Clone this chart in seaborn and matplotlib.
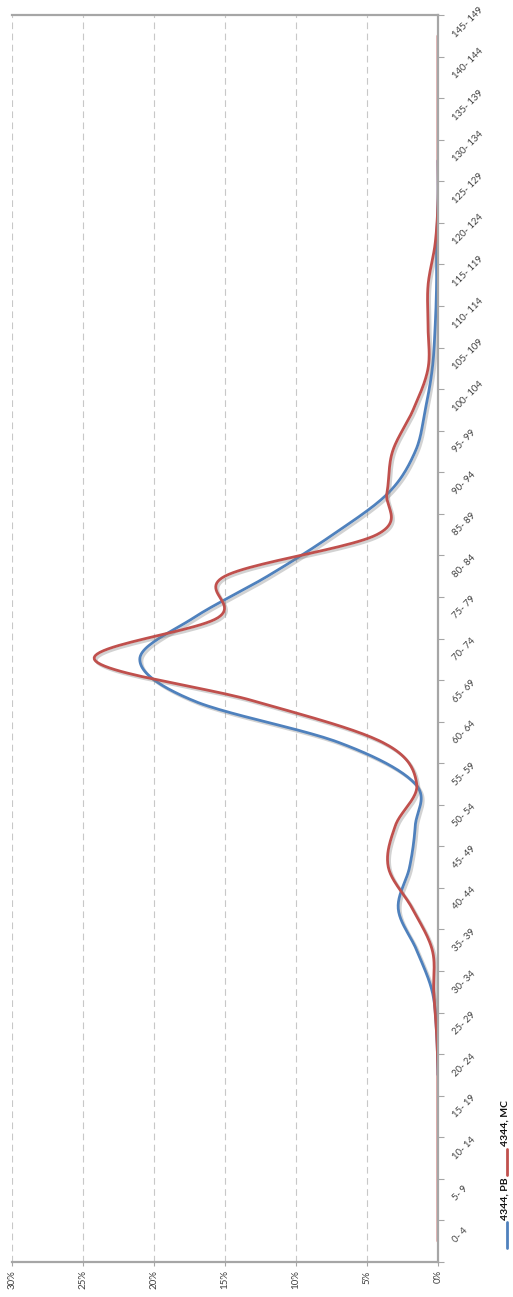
import numpy as np
import pandas as pd
import seaborn as sns
import matplotlib
matplotlib.use("Agg")
import matplotlib.pyplot as plt
from matplotlib.lines import Line2D
import matplotlib.patheffects as pe

# ---------------- data ----------------
categories = ["0- 4", "5- 9", "10- 14", "15- 19", "20- 24", "25- 29", "30- 34",
              "35- 39", "40- 44", "45- 49", "50- 54", "55- 59", "60- 64", "65- 69",
              "70- 74", "75- 79", "80- 84", "85- 89", "90- 94", "95- 99",
              "100- 104", "105- 109", "110- 114", "115- 119", "120- 124",
              "125- 129", "130- 134", "135- 139", "140- 144", "145- 149"]
nan = np.nan
pb_values = [nan, nan, nan, nan, 0.0, 0.1, 0.4, 1.5, 2.8, 2.0, 1.6, 1.6, 7.0, 17.2,
             21.0, 17.2, 12.0, 7.4, 3.5, 1.6, 0.9, 0.4, 0.2, 0.1, 0.1, 0.0, 0.0,
             nan, nan, nan]
mc_values = [0.0, 0.0, 0.0, 0.0, 0.0, 0.1, 0.3, 0.4, 1.8, 3.5, 3.0, 1.5, 3.9, 13.0,
             24.2, 15.5, 15.0, 4.3, 3.6, 3.2, 1.75, 0.7, 0.7, 0.7, 0.2, 0.0, 0.0,
             0.0, 0.0, 0.0]
series_names = ["4344, PB", "4344, MC"]
value_ticks = [0, 5, 10, 15, 20, 25, 30]
value_labels = ["0%", "5%", "10%", "15%", "20%", "25%", "30%"]

BLUE = "#4f81bd"
RED = "#c0504d"


def excel_smooth(values, steps=24):
    """Bezier smoothing like a spreadsheet 'smoothed line' through the points."""
    pts = np.array([(i, v) for i, v in enumerate(values) if not np.isnan(v)], float)
    n = len(pts)
    out = []
    for j in range(n - 1):
        p0 = pts[max(j - 1, 0)]
        p1 = pts[j]
        p2 = pts[j + 1]
        p3 = pts[min(j + 2, n - 1)]
        c1 = p1 + (p2 - p0) / 6.0
        c2 = p2 - (p3 - p1) / 6.0
        t = np.linspace(0, 1, steps, endpoint=(j == n - 2))[:, None]
        seg = ((1 - t) ** 3) * p1 + 3 * ((1 - t) ** 2) * t * c1 + 3 * (1 - t) * t ** 2 * c2 + t ** 3 * p2
        out.append(seg)
    out = np.vstack(out)
    return out[:, 0], out[:, 1]


sns.set_theme(style="white")
plt.rcParams["font.family"] = ["Lato", "DejaVu Sans"]

W, H = 513, 1297
fig = plt.figure(figsize=(W / 100, H / 100), dpi=100)
fig.patch.set_facecolor("white")
ax = fig.add_axes([12 / W, 35 / H, 426 / W, 1247 / H])

frames = []
for name, vals in zip(series_names, [pb_values, mc_values]):
    pos, val = excel_smooth(vals)
    frames.append(pd.DataFrame({"pos": pos, "value": val, "series": name}))
df = pd.concat(frames, ignore_index=True)

shadow = [pe.SimpleLineShadow(offset=(1.5, -1.5), shadow_color="#7f7f7f", alpha=0.35),
          pe.Normal()]
for name, color in zip(series_names, [BLUE, RED]):
    sub = df[df["series"] == name]
    sns.lineplot(data=sub, x="value", y="pos", sort=False, estimator=None,
                 color=color, lw=2.0, ax=ax, legend=False)
    ax.lines[-1].set_path_effects(shadow)

ax.set_xlim(30, 0)
ax.set_ylim(-0.5, 29.5)
ax.set_xlabel("")
ax.set_ylabel("")

# gridlines (vertical dashed)
ax.set_xticks(value_ticks)
ax.set_xticklabels(value_labels, rotation=90, fontsize=7, color="#404040")
ax.grid(axis="x", color="#c8c8c8", linestyle=(0, (6, 4)), lw=0.8)
ax.grid(axis="y", visible=False)

# category axis on the right
ax.yaxis.tick_right()
ax.set_yticks(range(len(categories)))
ax.set_yticklabels(categories, fontsize=6.8, color="#404040")
ax.set_yticks(np.arange(-0.5, len(categories), 1.0), minor=True)
ax.tick_params(axis="y", which="major", length=0, pad=12)
ax.tick_params(axis="y", which="minor", length=4, color="#a6a6a6", width=0.8,
               direction="out", right=True, left=False)
ax.tick_params(axis="x", which="major", length=3, color="#a6a6a6", width=0.8,
               direction="out", bottom=True, pad=3)
plt.setp(ax.get_yticklabels(), rotation=45, ha="left", va="center",
         rotation_mode="anchor")

for side in ["right", "top", "bottom"]:
    ax.spines[side].set_visible(True)
    ax.spines[side].set_color("#a6a6a6")
    ax.spines[side].set_linewidth(1.6)
ax.spines["left"].set_visible(False)

# rotated legend at bottom right
def fy(py):
    return 1 - py / H

fig.add_artist(Line2D([507 / W, 507 / W], [fy(1248), fy(1222)], color=BLUE, lw=2.0,
                      transform=fig.transFigure))
fig.text(505 / W, fy(1220), series_names[0], rotation=90, ha="center", va="bottom",
         fontsize=7.5, fontweight="bold", color="#111111")
fig.add_artist(Line2D([507 / W, 507 / W], [fy(1175), fy(1149)], color=RED, lw=2.0,
                      transform=fig.transFigure))
fig.text(505 / W, fy(1146), series_names[1], rotation=90, ha="center", va="bottom",
         fontsize=7.5, fontweight="bold", color="#111111")

fig.savefig("out.png", dpi=100, facecolor="white")
